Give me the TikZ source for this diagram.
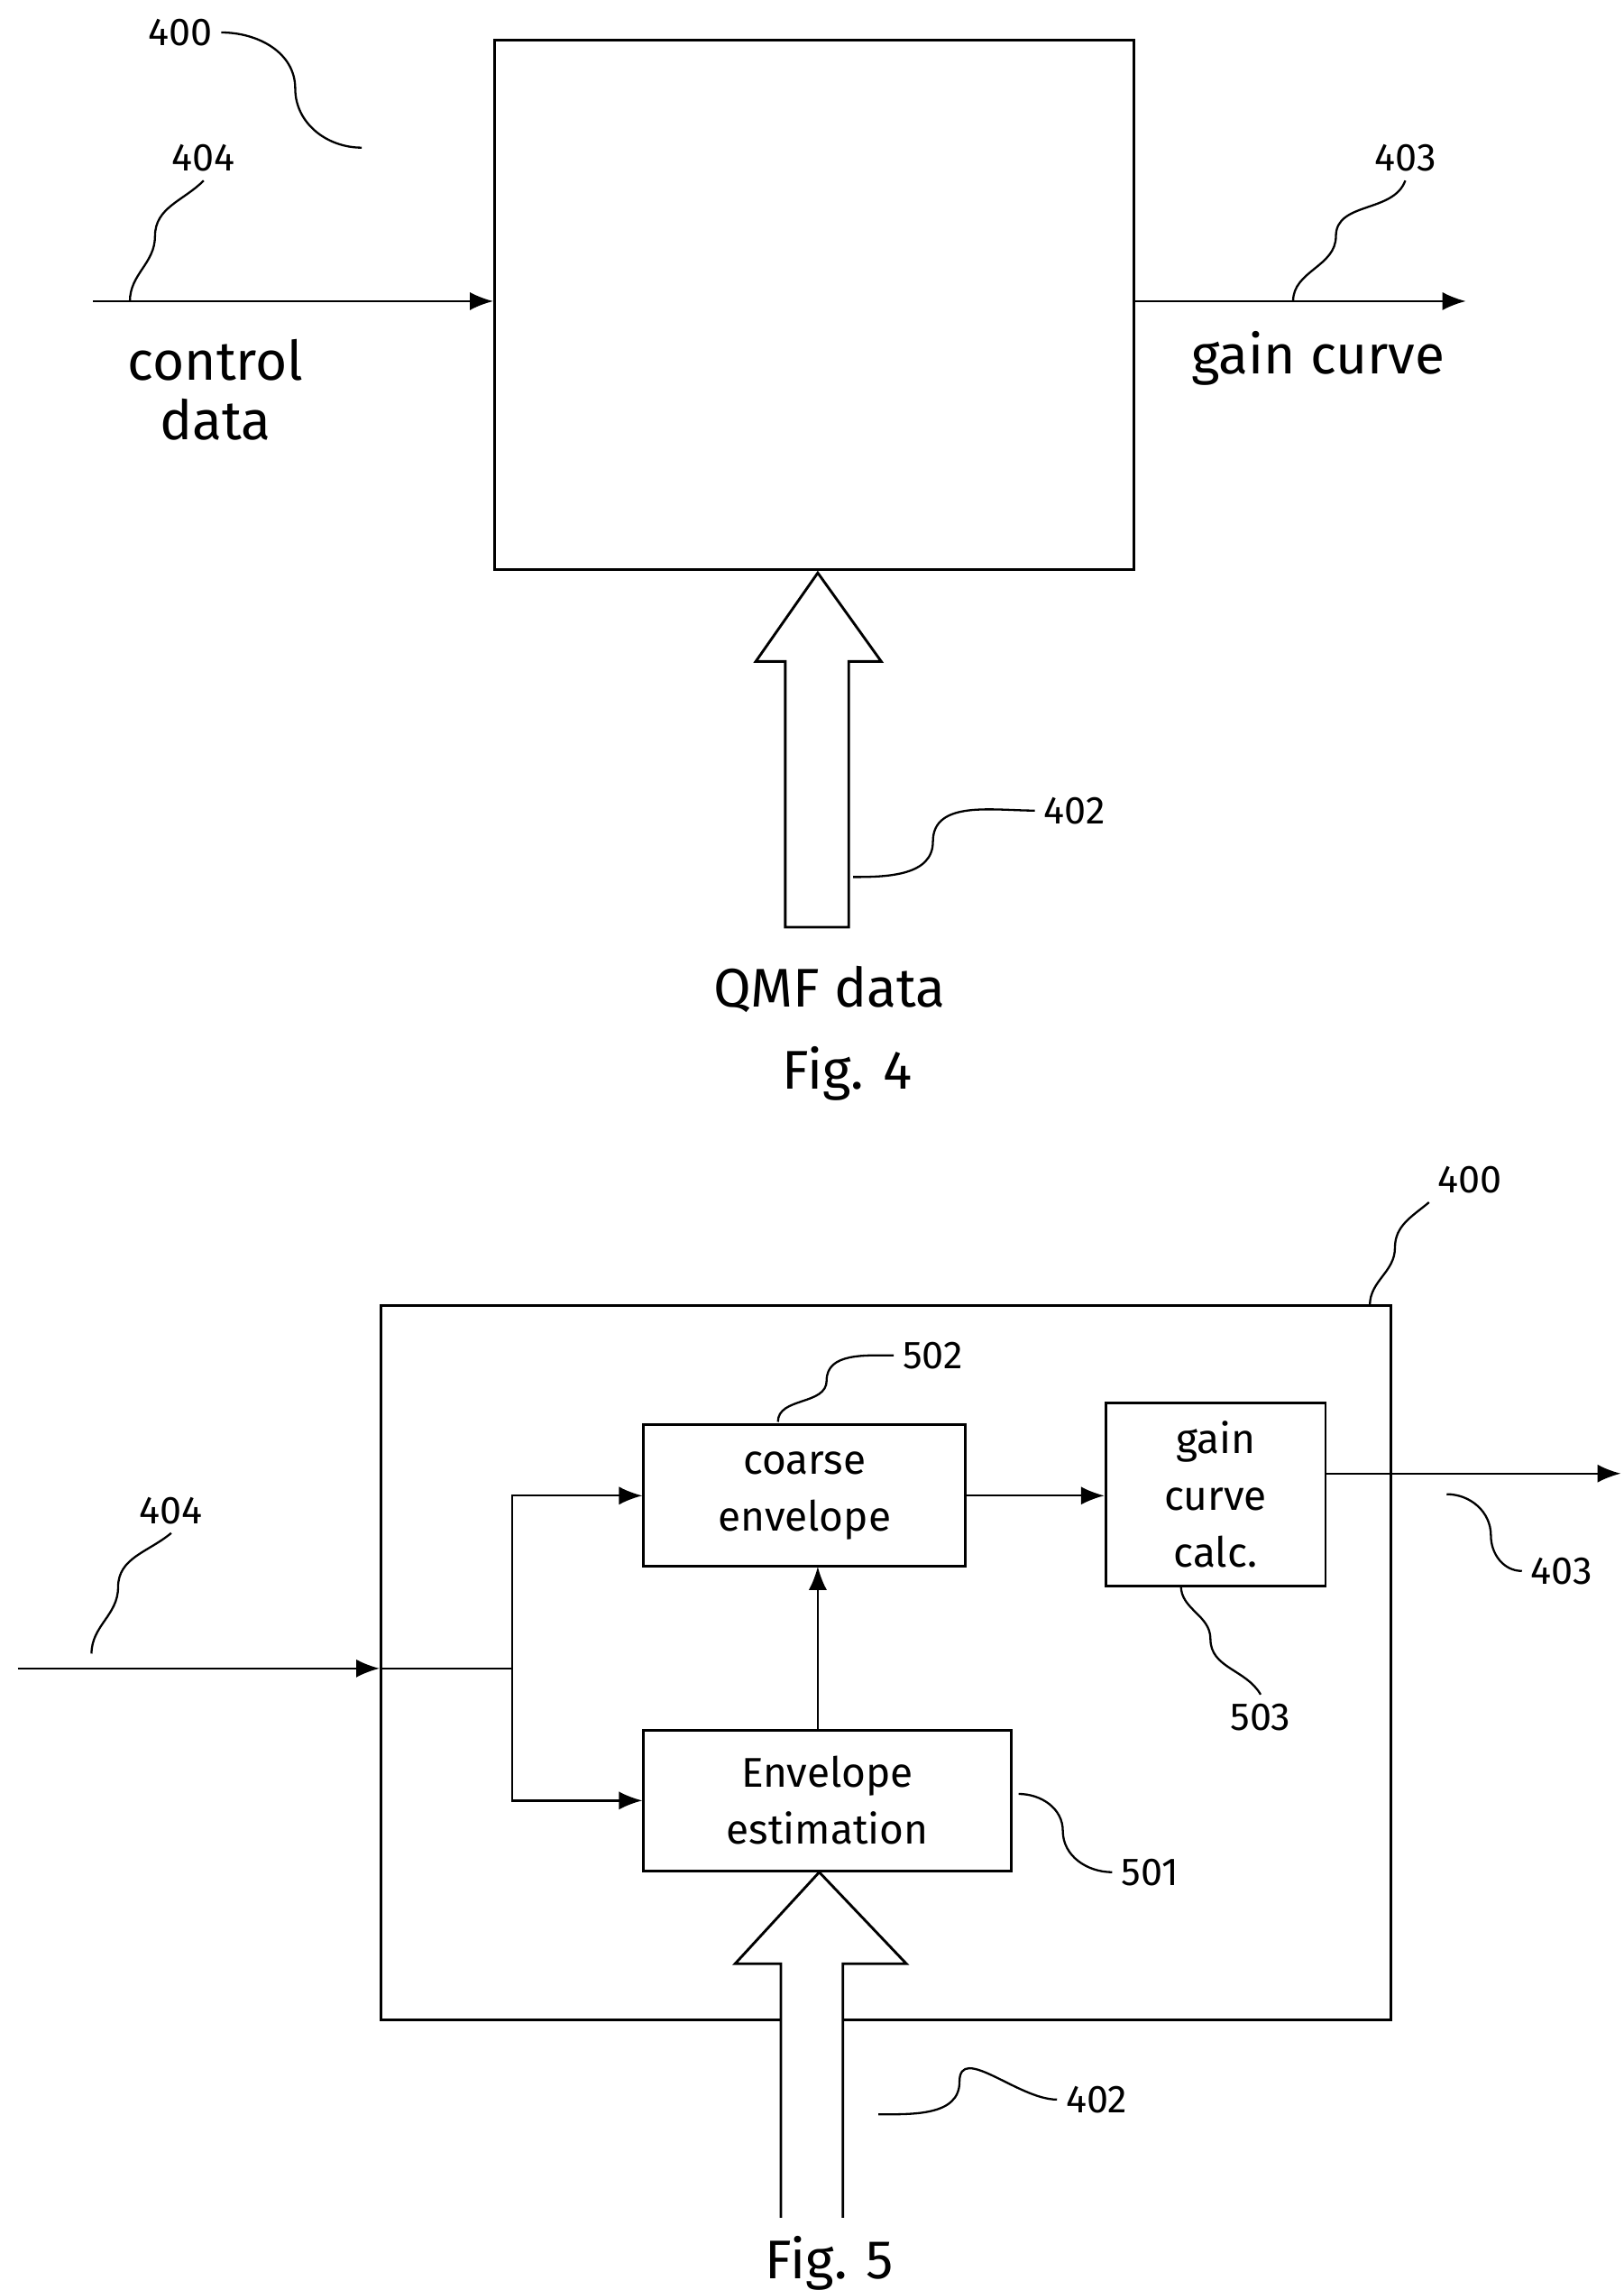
\documentclass[tikz,border=0pt]{standalone}
\usepackage{fontspec}
\setmainfont{Fira Sans}
\usetikzlibrary{arrows.meta,positioning}
\tikzset{
  blk/.style={draw,line width=1pt,minimum width=#1,inner sep=0pt,align=center},
  sig/.style={line width=0.8pt,-{Latex[length=9pt,width=7pt]}},
  leader/.style={line width=0.8pt},
  num/.style={font=\fontsize{15}{18}\selectfont},
  big/.style={font=\fontsize{21}{25}\selectfont,align=center},
  hollow/.style={draw,line width=1pt,fill=white}
}
\begin{document}
\begin{tikzpicture}[x=0.02cm,y=-0.02cm]
\useasboundingbox (0,0) rectangle (1100,1551);
% Fig. 4
\node[draw,line width=1pt,minimum width=433*0.02cm,minimum height=359*0.02cm] (unit) at (551.5,206.5) {};
\coordinate (cin) at (63,204);
\coordinate (gout) at (993,204);
\draw[sig] (cin) -- (unit.west |- cin);
\draw[sig] (unit.east |- gout) -- (gout);
\node[big] (ctl) at (146,264) {control\\[-2pt]data};
\node[big] (gain) at (893,243) {gain curve};
\node[num] (n400a) at (122,22) {400};
\node[num] (n404a) at (138,107) {404};
\node[num] (n403a) at (952,107) {403};
\node[num] (n402a) at (728,549) {402};
\draw[leader] (n400a.east) to[out=0,in=90] (200,60) to[out=-90,in=180] (245,100);
\draw[leader] (88,204) to[out=90,in=-90] (105,160) to[out=90,in=-135] (n404a.south);
\draw[leader] (876,204) to[out=90,in=-90] (905,160) to[out=90,in=-110] (n403a.south);
\path[hollow] (532,628) -- (532,448) -- (512,448) -- (554,388) -- (597,448) -- (575,448) -- (575,628) -- cycle;
\draw[leader] (578,594) to[out=0,in=-90] (632,570) to[out=90,in=180] (n402a.west);
\node[big] (qmf) at (562,670) {QMF data};
\node[big] (fig4) at (574,727) {Fig. 4};
% Fig. 5
\node[draw,line width=1pt,minimum width=684*0.02cm,minimum height=484*0.02cm] (outer) at (600,1126) {};
\node[blk=218*0.02cm,minimum height=96*0.02cm,font=\fontsize{16}{22}\selectfont] (coarse) at (545,1013) {coarse\\envelope};
\node[blk=249*0.02cm,minimum height=95*0.02cm,font=\fontsize{16}{22}\selectfont] (env) at (560.5,1219.5) {Envelope\\estimation};
\node[blk=149*0.02cm,minimum height=124*0.02cm,font=\fontsize{16}{22}\selectfont] (gcc) at (823.5,1012) {gain\\curve\\calc.};
\coordinate (in5) at (12,1130);
\coordinate (split) at (347,1130);
\coordinate (out5) at (1098,998);
\draw[sig] (in5) -- (outer.west |- in5);
\draw[line width=0.8pt] (outer.west |- in5) -- (split);
\draw[sig] (split) |- (coarse.west);
\draw[sig] (split) |- (env.west -| env.west);
\draw[sig] (554,1172) -- (554,1061);
\draw[sig] (coarse.east) -- (coarse.east -| gcc.west);
\draw[sig] (gcc.east |- out5) -- (out5);
\path[hollow] (529,1502) -- (529,1330) -- (498,1330) -- (555,1268) -- (614,1330) -- (571,1330) -- (571,1502);
\node[num] (n400b) at (996,799) {400};
\node[num] (n404b) at (116,1023) {404};
\node[num] (n502) at (632,918) {502};
\node[num] (n403b) at (1058,1064) {403};
\node[num] (n503) at (854,1163) {503};
\node[num] (n501) at (779,1268) {501};
\node[num] (n402b) at (743,1422) {402};
\draw[leader] (928,884) to[out=90,in=-90] (945,845) to[out=90,in=-140] (n400b.south west);
\draw[leader] (62,1120) to[out=90,in=-90] (80,1075) to[out=90,in=-140] (n404b.south);
\draw[leader] (527,963) to[out=90,in=-90] (560,935) to[out=90,in=180] (n502.west);
\draw[leader] (980,1012) to[out=0,in=90] (1010,1040) to[out=-90,in=180] (n403b.west);
\draw[leader] (800,1074) to[out=-90,in=90] (820,1110) to[out=-90,in=120] (n503.north);
\draw[leader] (690,1215) to[out=0,in=90] (720,1240) to[out=-90,in=180] (n501.west);
\draw[leader] (595,1432) to[out=0,in=-90] (650,1410) to[out=90,in=180] (n402b.west);
\node[big] (fig5) at (562,1533) {Fig. 5};
\end{tikzpicture}
\end{document}
